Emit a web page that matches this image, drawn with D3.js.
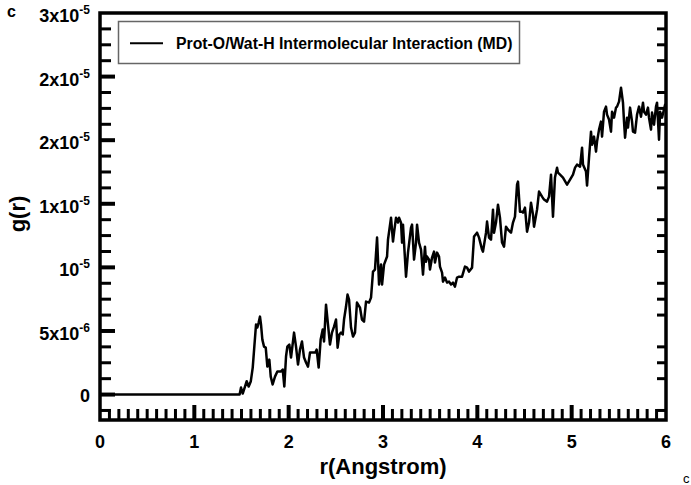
<!DOCTYPE html>
<html>
<head>
<meta charset="utf-8">
<script src="https://cdn.jsdelivr.net/npm/d3@7"></script>
<style>
  html, body { margin: 0; padding: 0; background: #fff; }
  svg { display: block; }
  text { font-family: "Liberation Sans", Arial, Helvetica, sans-serif; }
</style>
</head>
<body>
<script>
// ---------- data ----------
const G_UNIT = 1e-6; // g values below are in units of 1e-6
const rValues = [0, 1.48, 1.495, 1.513, 1.537, 1.555, 1.576, 1.598, 1.619, 1.636, 1.654, 1.668, 1.682, 1.696, 1.707, 1.721, 1.739, 1.757, 1.774, 1.795, 1.810, 1.830, 1.855, 1.880, 1.916, 1.937, 1.954, 1.972, 1.986, 2.007, 2.025, 2.057, 2.078, 2.099, 2.120, 2.141, 2.163, 2.184, 2.205, 2.226, 2.261, 2.283, 2.297, 2.318, 2.339, 2.361, 2.375, 2.396, 2.417, 2.438, 2.459, 2.481, 2.502, 2.519, 2.537, 2.555, 2.573, 2.587, 2.608, 2.624, 2.640, 2.661, 2.682, 2.703, 2.724, 2.756, 2.777, 2.799, 2.820, 2.852, 2.873, 2.894, 2.915, 2.937, 2.958, 2.979, 2.990, 3.011, 3.043, 3.053, 3.085, 3.106, 3.117, 3.138, 3.159, 3.170, 3.191, 3.202, 3.212, 3.223, 3.244, 3.265, 3.297, 3.308, 3.329, 3.350, 3.361, 3.382, 3.403, 3.424, 3.445, 3.456, 3.467, 3.488, 3.498, 3.520, 3.541, 3.551, 3.573, 3.594, 3.604, 3.626, 3.636, 3.657, 3.679, 3.700, 3.721, 3.742, 3.763, 3.785, 3.806, 3.838, 3.869, 3.891, 3.912, 3.944, 3.965, 3.997, 4.018, 4.050, 4.060, 4.092, 4.103, 4.124, 4.145, 4.166, 4.177, 4.198, 4.219, 4.240, 4.262, 4.283, 4.304, 4.325, 4.357, 4.378, 4.399, 4.421, 4.431, 4.452, 4.474, 4.484, 4.505, 4.527, 4.548, 4.569, 4.590, 4.601, 4.633, 4.654, 4.686, 4.707, 4.739, 4.760, 4.781, 4.802, 4.823, 4.845, 4.855, 4.877, 4.908, 4.951, 4.983, 5.014, 5.036, 5.057, 5.089, 5.110, 5.120, 5.152, 5.163, 5.184, 5.205, 5.216, 5.237, 5.258, 5.269, 5.290, 5.311, 5.322, 5.343, 5.364, 5.375, 5.396, 5.417, 5.428, 5.449, 5.470, 5.481, 5.502, 5.523, 5.544, 5.555, 5.566, 5.587, 5.597, 5.619, 5.640, 5.650, 5.672, 5.693, 5.714, 5.735, 5.756, 5.767, 5.788, 5.809, 5.820, 5.841, 5.852, 5.873, 5.894, 5.905, 5.926, 5.937, 5.958, 5.990, 6.0];
const gValues = [0, 0, 0.55, 0.08, 0.63, 1.05, 0.63, 1.02, 2.12, 3.77, 5.50, 5.27, 5.66, 6.13, 5.50, 4.32, 3.77, 3.69, 2.20, 2.75, 1.41, 0.79, 1.41, 1.81, 1.81, 1.97, 0.63, 2.99, 3.77, 3.93, 2.91, 4.87, 3.77, 2.36, 3.54, 4.17, 2.91, 2.52, 2.20, 3.30, 3.30, 3.30, 3.54, 2.12, 4.32, 5.11, 4.17, 7.07, 5.50, 3.93, 4.87, 5.34, 5.90, 3.69, 4.72, 4.87, 4.72, 5.90, 6.92, 7.86, 7.47, 5.27, 4.56, 4.87, 7.23, 6.84, 5.90, 5.74, 7.31, 7.23, 7.62, 9.67, 9.83, 12.34, 8.65, 10.22, 8.65, 10.22, 10.85, 12.18, 13.91, 12.03, 12.73, 13.91, 13.52, 13.91, 13.52, 11.95, 13.36, 11.95, 9.27, 11.16, 13.13, 13.36, 10.61, 11.95, 13.36, 11.95, 11.40, 9.43, 11.63, 10.45, 10.85, 10.61, 9.83, 10.77, 11.24, 10.38, 11.16, 10.85, 10.06, 9.59, 8.88, 9.20, 8.80, 8.88, 8.65, 8.80, 8.49, 9.20, 9.27, 9.27, 10.06, 9.98, 9.67, 9.98, 12.42, 12.73, 12.34, 11.40, 11.24, 12.73, 13.60, 12.34, 12.18, 14.54, 12.73, 13.52, 14.93, 13.91, 11.95, 11.63, 13.20, 12.97, 12.73, 13.52, 13.99, 16.51, 16.74, 14.38, 14.38, 14.31, 14.70, 12.81, 13.52, 15.09, 14.15, 13.20, 14.54, 15.96, 15.56, 15.33, 15.17, 15.56, 17.29, 13.99, 17.06, 17.84, 17.45, 17.29, 17.06, 16.51, 16.90, 17.29, 17.84, 18.08, 17.92, 19.41, 18.08, 17.53, 16.43, 18.63, 20.67, 19.65, 20.28, 19.10, 19.89, 20.83, 21.46, 20.28, 22.24, 22.64, 22.01, 21.62, 20.67, 22.24, 21.77, 22.56, 22.64, 23.03, 24.13, 22.95, 21.46, 20.20, 21.77, 20.99, 22.56, 21.46, 20.67, 20.59, 22.01, 22.64, 21.85, 22.95, 22.24, 22.01, 22.56, 21.77, 20.83, 22.17, 21.22, 22.64, 22.95, 20.04, 22.24, 21.77, 22.79, 22.56];

const xTickValues = [0, 1, 2, 3, 4, 5, 6];
const xTickLabels = ["0", "1", "2", "3", "4", "5", "6"];
const yTickValues = [0, 5e-6, 1e-5, 1.5e-5, 2e-5, 2.5e-5, 3e-5];
const yTickBase = ["0", "5x10", "10", "1x10", "2x10", "2x10", "3x10"];
const yTickExp = ["", "-6", "-5", "-5", "-5", "-5", "-5"];
const seriesName = "Prot-O/Wat-H Intermolecular Interaction (MD)";
const xTitle = "r(Angstrom)";
const yTitle = "g(r)";

// ---------- layout ----------
const W = 691, H = 485;
const L = 100, R = 666, T = 13, B = 420;

const svg = d3.select("body").append("svg").attr("width", W).attr("height", H);

const x = d3.scaleLinear().domain([0, 6]).range([L, R]);
const y = d3.scaleLinear().domain([-2e-6, 3e-5]).range([B, T]);

// minor tick values
const xMinor = d3.range(1, 60).map(i => i / 10).filter(v => Math.abs(v - Math.round(v)) > 1e-9);
const yMinor = d3.range(-1, 24).map(i => i * 1.25e-6).filter(v => Math.abs(v / 5e-6 - Math.round(v / 5e-6)) > 1e-6);

// x tick labels
svg.append("g").selectAll("text").data(xTickValues).join("text")
  .attr("x", d => x(d)).attr("y", 448)
  .attr("text-anchor", "middle").attr("font-size", 18).attr("font-weight", "bold")
  .text((d, i) => xTickLabels[i]);

// y tick labels with superscripts
const yl = svg.append("g").selectAll("text").data(yTickValues).join("text")
  .attr("x", 90)
  .attr("y", (d, i) => y(d) + (yTickExp[i] ? 9 : 7))
  .attr("text-anchor", "end").attr("font-size", 18).attr("font-weight", "bold");
yl.append("tspan").text((d, i) => yTickBase[i]);
yl.append("tspan").attr("dy", -8).attr("font-size", 12).text((d, i) => yTickExp[i]);

// axis titles
svg.append("text").attr("x", 383).attr("y", 474).attr("text-anchor", "middle")
  .attr("font-size", 22).attr("font-weight", "bold").text(xTitle);
svg.append("text").attr("transform", "translate(25,214) rotate(-90)").attr("text-anchor", "middle")
  .attr("font-size", 22).attr("font-weight", "bold").text(yTitle);

// panel letters
svg.append("text").attr("x", 7).attr("y", 17).attr("font-size", 16).attr("font-weight", "bold").text("c");
svg.append("text").attr("x", 683).attr("y", 483).attr("font-size", 13).text("c");

// data line
const line = d3.line().x((d, i) => x(rValues[i])).y((d, i) => y(gValues[i] * G_UNIT));
svg.append("path").datum(gValues).attr("d", line)
  .attr("fill", "none").attr("stroke", "#000").attr("stroke-width", 2.5)
  .attr("stroke-linejoin", "round");

// legend
const lg = svg.append("g");
lg.append("rect").attr("x", 118.5).attr("y", 21.5).attr("width", 401).attr("height", 42)
  .attr("fill", "#fff").attr("stroke", "#666").attr("stroke-width", 1.5);
lg.append("line").attr("x1", 130).attr("x2", 163).attr("y1", 43.3).attr("y2", 43.3)
  .attr("stroke", "#000").attr("stroke-width", 2);
lg.append("text").attr("x", 176).attr("y", 48.5).attr("font-size", 15.8).attr("font-weight", "bold")
  .text(seriesName);

// frame
svg.append("rect").attr("x", L).attr("y", T).attr("width", R - L).attr("height", B - T)
  .attr("fill", "none").attr("stroke", "#000").attr("stroke-width", 3.5);

// inward ticks, drawn last
const tk = svg.append("g").attr("fill", "none").attr("stroke", "#000");
tk.selectAll("path.mnx").data(xMinor).join("path").attr("class", "mnx")
  .attr("d", d => `M${x(d)},${B}V${B - 11}`).attr("stroke-width", 3);
tk.selectAll("path.mny").data(yMinor).join("path").attr("class", "mny")
  .attr("d", d => `M${L},${y(d)}H${L + 11}`).attr("stroke-width", 3);
tk.selectAll("path.mnr").data(yMinor).join("path").attr("class", "mnr")
  .attr("d", d => `M${R},${y(d)}H${R - 9}`).attr("stroke-width", 3);
tk.selectAll("path.mjx").data(xTickValues.slice(1, 6)).join("path").attr("class", "mjx")
  .attr("d", d => `M${x(d)},${B}V${B - 15}`).attr("stroke-width", 4);
tk.selectAll("path.mjy").data(yTickValues.slice(0, 6)).join("path").attr("class", "mjy")
  .attr("d", d => `M${L},${y(d)}H${L + 15}`).attr("stroke-width", 4);
</script>
</body>
</html>
